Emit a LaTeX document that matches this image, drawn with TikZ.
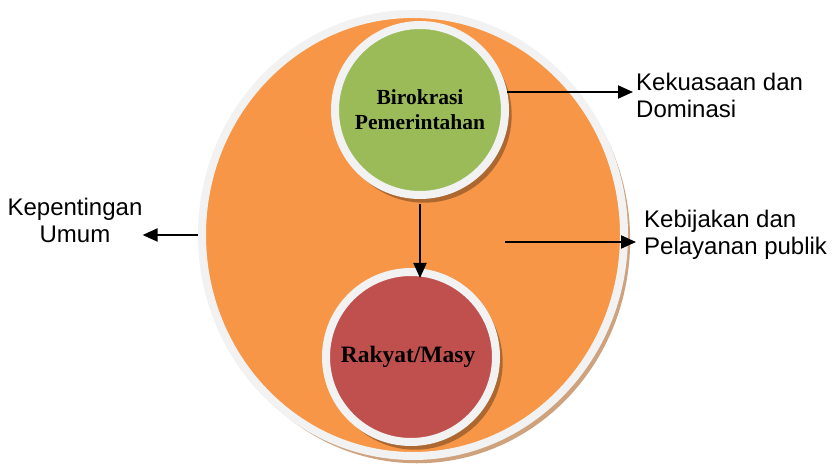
\documentclass[tikz,border=0pt]{standalone}
\usepackage{fontspec}
\setmainfont{Liberation Serif}
\setsansfont{Liberation Sans}
\usepackage{tikz}
\usetikzlibrary{positioning,shapes.geometric,shadows,arrows.meta}
\definecolor{oranye}{HTML}{F79646}
\definecolor{hijau}{HTML}{9BBB59}
\definecolor{merah}{HTML}{C0504D}
\definecolor{cincin}{HTML}{F2F2F2}
\definecolor{bayang}{HTML}{CFA27E}

\begin{document}
\begin{tikzpicture}[x=1pt, y=1pt,
    arr/.style={-{Triangle[length=15pt,width=13pt]}, line width=2pt},
    keterangan/.style={font=\sffamily\fontsize{24}{27.5}\selectfont, inner sep=0pt},
    bulat/.style={circle, draw=cincin, line width=8pt, minimum size=170pt, align=center,
        drop shadow={shadow xshift=4pt, shadow yshift=-5pt, shadow scale=1.03, fill=black, opacity=0.3}}]
    \useasboundingbox (0,0) rectangle (834,463);

    \node[ellipse, draw=cincin, line width=8pt, fill=oranye, minimum width=422pt, minimum height=442pt,
        drop shadow={shadow xshift=4pt, shadow yshift=-5pt, shadow scale=1.01, fill=bayang, opacity=1}] (masyarakat) at (413,228) {};

    \node[bulat, fill=hijau, font=\bfseries\fontsize{21.5}{25}\selectfont] (birokrasi) at (420,353) {
        Birokrasi\\
        Pemerintahan
    };
    \node[bulat, fill=merah, font=\bfseries\fontsize{23.5}{27}\selectfont] (rakyat) at (411,106) {
        Rakyat/Masy
    };

    \node[keterangan, anchor=north west, align=left] (kekuasaan) at (636,390.5) {
        Kekuasaan dan\\
        Dominasi
    };
    \node[keterangan, anchor=north west, align=left] (kebijakan) at (644,253.5) {
        Kebijakan dan\\
        Pelayanan publik
    };
    \node[keterangan, anchor=north, align=center] (kepentingan) at (75,265.5) {
        Kepentingan\\
        Umum
    };

    \coordinate (kuasa awal) at (507,371);
    \coordinate (bijak awal) at (505,221);

    \draw[arr] ([yshift=-5pt]birokrasi.south) -- (birokrasi.south |- rakyat.north) [shorten >=-10pt];
    \draw[arr, shorten >=3pt] (kuasa awal) -- (kuasa awal -| kekuasaan.west);
    \draw[arr, shorten >=8pt] (bijak awal) -- (bijak awal -| kebijakan.west);
    \draw[arr] (masyarakat.west) -- (masyarakat.west -| kepentingan.east);
\end{tikzpicture}
\end{document}
